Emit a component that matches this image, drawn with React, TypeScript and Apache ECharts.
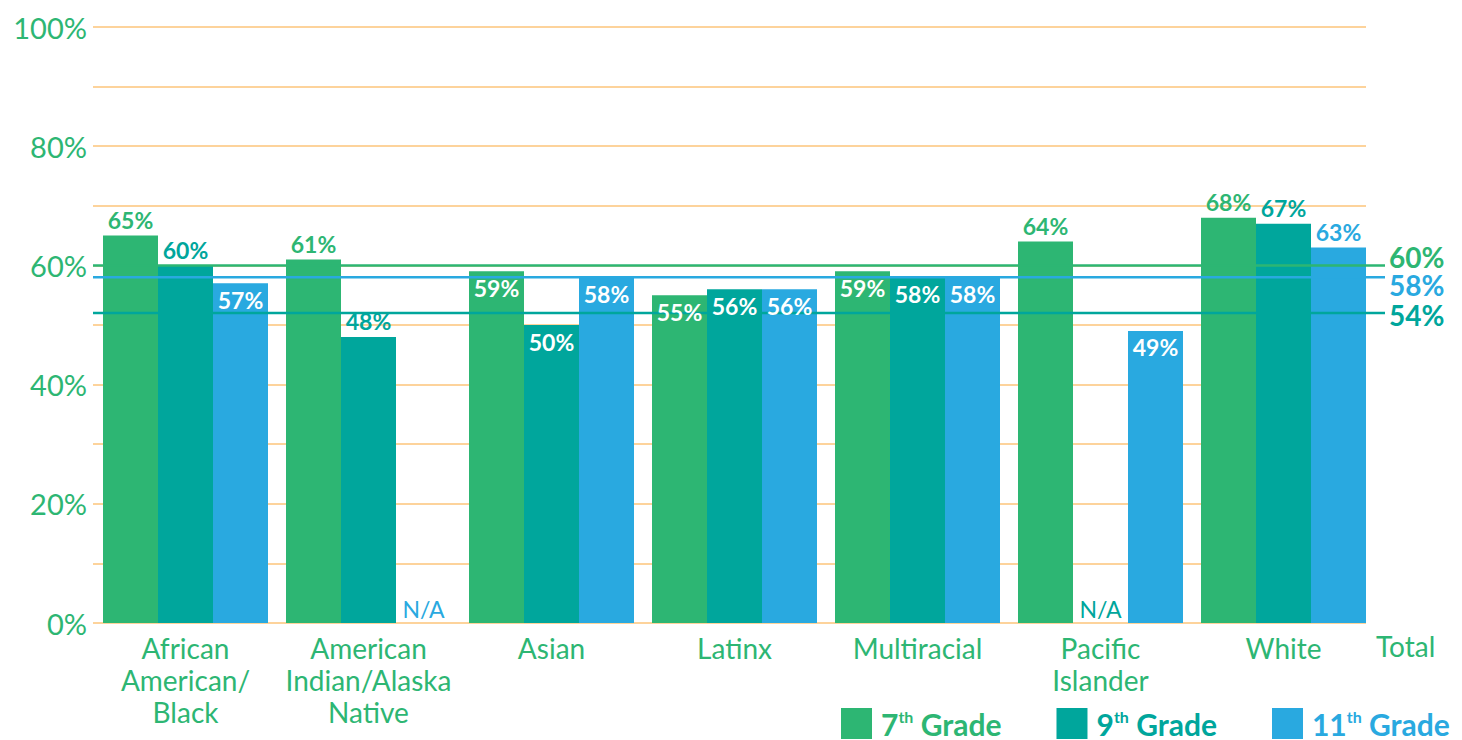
import React, { useEffect, useRef } from "react";
import * as echarts from "echarts";

const categories = [
  "African\nAmerican/\nBlack",
  "American\nIndian/Alaska\nNative",
  "Asian",
  "Latinx",
  "Multiracial",
  "Pacific\nIslander",
  "White",
];
const seriesNames = ["7th Grade", "9th Grade", "11th Grade"];
const grade7 = [65, 61, 59, 55, 59, 64, 68];
const grade9 = [60, 48, 50, 56, 58, null, 67];
const grade11 = [57, null, 58, 56, 58, 49, 63];
// which value labels sit inside the bar top (white) rather than above it
const inside7 = [false, false, true, true, true, false, false];
const inside9 = [false, false, true, true, true, false, false];
const inside11 = [true, false, true, true, true, true, false];
// "Total" reference lines: drawn level and printed label
const totalLevels = [60, 52, 58];
const totalLabels = ["60%", "54%", "58%"];
const totalLabelShift = [-8, 2, 8];
const yLabelValues = [0, 20, 40, 60, 80, 100];
const totalText = "Total";

const GREEN = "#2DB673";
const TEAL = "#00A69C";
const BLUE = "#29A9E0";
const ORANGE = "#FCC47A";
const FONT = "Lato, 'Noto Sans', sans-serif";
const colors = [GREEN, TEAL, BLUE];

function barData(values: (number | null)[], inside: boolean[], color: string, withLabels: boolean) {
  return values.map((v, i) => {
    if (!withLabels) return { value: v == null ? 0 : v, label: { show: false } };
    return v == null
      ? {
          value: 0,
          label: {
            show: true,
            position: "top",
            formatter: "N/A",
            color,
            fontWeight: "normal",
            fontSize: 23,
            distance: 3,
          },
        }
      : {
          value: v,
          label: {
            show: true,
            position: inside[i] ? "insideTop" : "top",
            color: inside[i] ? "#FFFFFF" : color,
            distance: inside[i] ? 5 : 4,
            formatter: v + "%",
          },
        };
  });
}

export default function App() {
  const ref = useRef<HTMLDivElement>(null);
  useEffect(() => {
    if (!ref.current) return;
    const chart = echarts.init(ref.current, null, { renderer: "svg" });
    const top = 27;
    const height = 596;
    const richFor = (c: string) => ({
      n: { color: c, fontSize: 30, fontWeight: "bold", fontFamily: FONT, lineHeight: 31 },
      p: { color: c, fontSize: 30, fontWeight: "bold", fontFamily: FONT, lineHeight: 31, padding: [0, 0, 0, 4] },
      s: { color: c, fontSize: 16, fontWeight: "bold", fontFamily: FONT, lineHeight: 16, verticalAlign: "top" },
    });
    const values = [grade7, grade9, grade11];
    const insides = [inside7, inside9, inside11];
    const totalColors = [GREEN, TEAL, BLUE];
    const catAxis = (gridIndex: number, show: boolean) => ({
      gridIndex,
      type: "category",
      data: categories,
      axisLine: { show: false },
      axisTick: { show: false },
      axisLabel: {
        show,
        color: GREEN,
        fontSize: 28,
        lineHeight: 32,
        margin: 9,
        fontFamily: FONT,
        interval: 0,
      },
    });
    const option: any = {
      animation: false,
      textStyle: { fontFamily: FONT },
      grid: [
        { left: 93, top, width: 1273, height },
        { left: 94, top, width: 1281, height },
        { left: 93, top, width: 1292, height },
        { left: 94, top, width: 1281, height },
      ],
      xAxis: [
        { gridIndex: 0, type: "value", min: 0, max: 1, show: false },
        catAxis(1, true),
        { gridIndex: 2, type: "value", min: 0, max: 1, show: false },
        catAxis(3, false),
      ],
      yAxis: [
        {
          gridIndex: 0,
          type: "value",
          min: 0,
          max: 100,
          interval: 10,
          axisLine: { show: false },
          axisTick: { show: false },
          splitLine: { show: true, lineStyle: { color: ORANGE, width: 1.5 } },
          axisLabel: {
            color: GREEN,
            fontSize: 29,
            margin: 6,
            fontFamily: FONT,
            formatter: (v: number) => (yLabelValues.indexOf(v) >= 0 ? v + "%" : ""),
          },
        },
        { gridIndex: 1, type: "value", min: 0, max: 100, show: false },
        { gridIndex: 2, type: "value", min: 0, max: 100, show: false },
        { gridIndex: 3, type: "value", min: 0, max: 100, show: false },
      ],
      legend: {
        left: 841,
        top: 708,
        itemWidth: 31,
        itemHeight: 31,
        itemGap: 55,
        icon: "rect",
        selectedMode: false,
        padding: 0,
        formatter: (name: string) => name.replace(/^(\d+)th (.*)$/, "{p|$1}{s|th}{n| $2}"),
        textStyle: { fontSize: 30, fontWeight: "bold", fontFamily: FONT },
        data: seriesNames.map((n, i) => ({
          name: n,
          itemStyle: { color: colors[i] },
          textStyle: { color: colors[i], rich: richFor(colors[i]) },
        })),
      },
      graphic: [
        {
          type: "text",
          left: 1376,
          top: 632,
          style: { text: totalText, fill: GREEN, font: `28px ${FONT}` },
        },
      ],
      series: [
        // bars
        ...seriesNames.map((n, i) => ({
          name: n,
          type: "bar",
          xAxisIndex: 1,
          yAxisIndex: 1,
          barWidth: 55,
          barGap: "0%",
          itemStyle: { color: colors[i] },
          data: barData(values[i], insides[i], colors[i], false),
          z: 2,
        })),
        // total lines (over the bars)
        ...totalLevels.map((lv, i) => ({
          name: "Total " + totalLabels[i],
          type: "line",
          xAxisIndex: 2,
          yAxisIndex: 2,
          symbol: "none",
          silent: true,
          z: 3,
          lineStyle: { color: totalColors[i], width: 2.5 },
          data: [
            [0, lv],
            [1, lv],
          ],
          endLabel: {
            show: true,
            formatter: totalLabels[i],
            distance: 4,
            offset: [0, totalLabelShift[i]],
            color: totalColors[i],
            fontSize: 28,
            lineHeight: 24,
            fontWeight: "bold",
            fontFamily: FONT,
          },
        })),
        // value labels (over the lines), on transparent twin bars
        ...seriesNames.map((n, i) => ({
          name: n + " labels",
          type: "bar",
          xAxisIndex: 3,
          yAxisIndex: 3,
          barWidth: 55,
          barGap: "0%",
          silent: true,
          itemStyle: { color: "rgba(0,0,0,0)" },
          label: { show: true, fontSize: 23, fontWeight: "bold", fontFamily: FONT },
          data: barData(values[i], insides[i], colors[i], true),
          z: 4,
        })),
      ],
    };
    chart.setOption(option);
    return () => chart.dispose();
  }, []);
  return (
    <div
      ref={ref}
      style={{ position: "absolute", left: 0, top: 0, width: 1462, height: 740, background: "#fff" }}
    />
  );
}
